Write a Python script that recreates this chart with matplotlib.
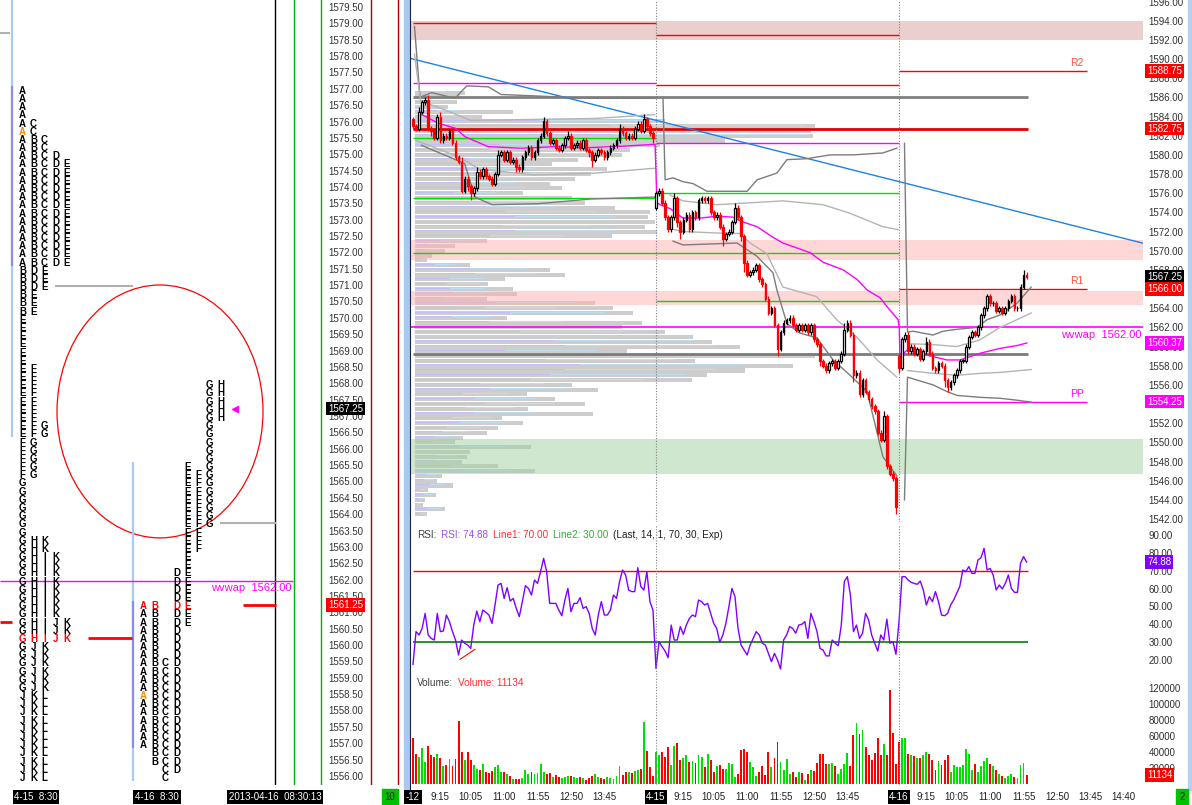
import numpy as np
import matplotlib
matplotlib.use("Agg")
import matplotlib.pyplot as plt
import matplotlib.transforms as mtrans
from matplotlib.patches import Ellipse, Rectangle
from matplotlib.lines import Line2D

plt.rcParams["font.family"] = ["Liberation Sans", "DejaVu Sans"]

W, H = 1192, 805

# ---------------- TPO profiles (price ranges per half-hour letter) ----------------
tpo_415_letters = list("ABCDEFGHIJKL")
tpo_415_low = [1571.75, 1570.25, 1571.75, 1571.0, 1566.5, 1565.25,
               1558.75, 1560.25, 1560.25, 1556.0, 1556.0, 1556.0]
tpo_415_high = [1577.0, 1575.5, 1576.0, 1575.0, 1574.75, 1568.5,
                1566.75, 1563.25, 1562.75, 1560.75, 1563.25, 1558.5]
tpo_415_open, tpo_415_close = 1575.75, 1560.25
tpo_415_range, tpo_415_va = (1566.5, 1579.75), (1571.75, 1577.0)

tpo_416_letters = list("ABCDEFGH")
tpo_416_low = [1557.0, 1556.5, 1556.0, 1556.25, 1560.75, 1563.0, 1563.75, 1567.0]
tpo_416_high = [1561.25, 1561.25, 1559.5, 1562.25, 1565.5, 1565.25, 1568.0, 1568.0]
tpo_416_open, tpo_416_close = 1558.5, 1561.25
tpo_416_range, tpo_416_va = (1556.0, 1565.5), (1557.0, 1561.25)

tpo_vwap = 1562.00

# ---------------- 5-minute bars: 4-12, 4-15, 4-16 ----------------
session_tags = ["-12", "4-15", "4-16"]
sess_open = [1583.75, 1574.5, 1559.0]

closes_412 = [1583.0, 1582.75, 1584.5, 1585.5, 1585.75, 1582.75, 1582.5, 1581.75, 1584.0, 1581.5,
              1582.0, 1581.75, 1582.5, 1581.25, 1579.75, 1579.25, 1576.25, 1577.5, 1576.75, 1576.0,
              1576.5, 1578.25, 1577.75, 1578.5, 1577.75, 1577.5, 1577.0, 1578.0, 1580.0, 1580.25,
              1579.5, 1580.25, 1579.25, 1579.5, 1578.75, 1578.5, 1579.75, 1580.25, 1580.75, 1579.75,
              1580.25, 1581.5, 1582.0, 1583.5, 1582.25, 1581.25, 1581.5, 1580.75, 1580.5, 1581.0,
              1581.75, 1582.0, 1580.75, 1581.0, 1581.25, 1580.75, 1581.5, 1580.5, 1580.25, 1579.5,
              1580.0, 1580.5, 1580.25, 1579.75, 1580.25, 1580.75, 1581.0, 1581.5, 1582.75, 1582.25,
              1581.75, 1582.0, 1581.75, 1582.75, 1583.25, 1582.5, 1583.75, 1583.0, 1582.25, 1581.75]
closes_415 = [1576.0, 1576.25, 1575.0, 1573.5, 1572.25, 1573.5, 1575.5, 1573.0, 1572.0, 1573.25,
              1573.75, 1572.25, 1574.0, 1573.5, 1575.25, 1575.5, 1575.25, 1575.5, 1574.0, 1573.5,
              1573.75, 1572.5, 1571.25, 1571.75, 1572.0, 1573.0, 1574.5, 1573.5, 1571.5, 1568.75,
              1567.5, 1567.75, 1568.0, 1568.5, 1567.0, 1566.5, 1565.0, 1563.5, 1564.0, 1562.25,
              1559.75, 1561.5, 1562.5, 1562.75, 1563.0, 1562.25, 1561.75, 1562.25, 1561.75, 1562.25,
              1561.5, 1562.25, 1560.75, 1560.25, 1558.5, 1558.0, 1557.5, 1558.25, 1558.5, 1557.75,
              1558.5, 1559.25, 1561.75, 1562.5, 1561.25, 1557.0, 1557.25, 1555.0, 1556.5, 1555.25,
              1554.5, 1553.75, 1553.25, 1551.0, 1550.25, 1552.75, 1547.5, 1546.75, 1546.25, 1543.25]
closes_416 = [1557.75, 1560.75, 1561.25, 1559.5, 1560.0, 1559.25, 1559.75, 1558.75, 1559.5, 1560.5,
              1559.25, 1557.75, 1557.5, 1558.25, 1558.0, 1556.5, 1555.75, 1556.25, 1557.0, 1557.5,
              1558.5, 1558.5, 1560.0, 1561.0, 1561.5, 1561.25, 1562.0, 1563.25, 1564.0, 1565.25,
              1564.5, 1564.5, 1563.75, 1564.0, 1563.5, 1564.0, 1564.75, 1565.25, 1564.0, 1564.0,
              1566.25, 1567.5, 1567.25]

# wick lengths in ticks (0.25)
upw_412 = [1, 1, 2, 1, 1, 2, 1, 1, 1, 2, 1, 1, 1, 1, 1, 1, 2, 1, 1, 1,
           1, 2, 1, 1, 1, 1, 1, 1, 2, 1, 1, 1, 1, 1, 1, 1, 1, 1, 1, 1,
           1, 1, 1, 2, 1, 1, 1, 1, 1, 1, 1, 2, 1, 1, 1, 1, 1, 1, 1, 1,
           1, 1, 1, 1, 1, 1, 1, 1, 2, 1, 1, 1, 1, 1, 1, 1, 2, 1, 1, 1]
dnw_412 = [1, 1, 1, 1, 1, 1, 2, 1, 1, 1, 1, 1, 1, 1, 1, 1, 1, 1, 2, 3,
           1, 1, 1, 1, 1, 1, 1, 1, 1, 1, 1, 1, 1, 1, 2, 1, 1, 1, 1, 1,
           1, 1, 1, 1, 1, 1, 1, 1, 1, 1, 1, 1, 1, 1, 1, 1, 1, 1, 2, 3,
           1, 1, 1, 1, 1, 1, 1, 1, 1, 1, 1, 1, 1, 1, 1, 1, 1, 1, 1, 2]
upw_415 = [1, 1, 1, 1, 1, 1, 2, 1, 1, 1, 1, 1, 1, 1, 1, 1, 1, 1, 1, 1,
           1, 1, 1, 1, 1, 1, 2, 1, 1, 1, 1, 1, 1, 1, 1, 1, 1, 1, 1, 1,
           1, 1, 1, 1, 1, 1, 1, 1, 1, 1, 1, 1, 1, 1, 1, 1, 1, 1, 1, 1,
           1, 1, 3, 1, 1, 1, 1, 1, 1, 1, 1, 1, 1, 1, 1, 2, 1, 1, 1, 1]
dnw_415 = [1, 1, 1, 1, 1, 1, 1, 2, 3, 1, 1, 1, 1, 1, 1, 1, 1, 1, 1, 1,
           1, 1, 3, 1, 1, 1, 1, 1, 2, 4, 1, 1, 1, 1, 1, 1, 1, 1, 1, 1,
           3, 1, 1, 1, 1, 1, 1, 1, 1, 1, 1, 1, 1, 1, 2, 1, 1, 1, 1, 1,
           1, 1, 1, 1, 1, 3, 1, 1, 1, 1, 1, 1, 1, 1, 1, 1, 1, 1, 1, 3]
upw_416 = [1, 1, 1, 1, 1, 1, 1, 1, 1, 2, 1, 1, 1, 1, 1, 1, 1, 1, 1, 1,
           1, 1, 1, 1, 1, 1, 1, 1, 1, 1, 1, 1, 1, 1, 1, 1, 1, 1, 1, 1,
           1, 2, 1]
dnw_416 = [2, 1, 1, 1, 1, 1, 1, 1, 1, 1, 1, 1, 1, 1, 1, 3, 2, 1, 1, 1,
           1, 1, 1, 1, 1, 1, 1, 1, 1, 1, 1, 1, 1, 1, 1, 1, 1, 1, 1, 1,
           1, 1, 1]

vol_412 = [57100, 37100, 34200, 45400, 28100, 47900, 36250, 34200, 37100, 32100,
           22900, 23750, 31250, 22900, 30800, 78750, 39600, 30000, 40400, 30000,
           23750, 18750, 17500, 24600, 15400, 13300, 16250, 21250, 23750, 14600,
           15400, 12100, 10400, 6250, 6250, 6250, 7900, 17500, 12100, 15400,
           12100, 13300, 24600, 15400, 12100, 13300, 9200, 11250, 9200, 7900,
           8750, 10400, 10400, 9200, 7900, 9200, 7100, 5000, 7900, 10400,
           12100, 8300, 7100, 6250, 9200, 7100, 6250, 10400, 22900, 11250,
           15400, 14600, 13300, 16250, 17500, 18750, 77900, 41250, 21250, 10400]
vol_415 = [39600, 36250, 40400, 34200, 46700, 23750, 47900, 50800, 30000, 32900,
           36250, 27100, 28750, 25800, 36250, 34200, 21250, 37100, 30000, 15400,
           22900, 23750, 18750, 18750, 25800, 24600, 9200, 12100, 42500, 43750,
           40400, 27100, 21250, 10400, 15400, 22900, 11250, 39600, 21250, 32900,
           52900, 27100, 17500, 31250, 12100, 15400, 9200, 15400, 13300, 5000,
           12000, 17000, 16000, 26000, 38000, 38000, 25000, 25000, 26000, 22000,
           13000, 19000, 25000, 39000, 22000, 61000, 76000, 63000, 67000, 46000,
           36000, 30000, 39000, 57000, 36000, 50000, 36000, 117000, 64000, 25000]
vol_416 = [53000, 58000, 58000, 37000, 36000, 35000, 32000, 32000, 36000, 40000,
           38000, 30000, 17000, 29000, 24000, 30000, 36000, 15000, 24000, 21000,
           21000, 24000, 44000, 37000, 17000, 25000, 15000, 22000, 29000, 33000,
           25000, 23000, 17000, 13000, 10000, 8000, 10000, 13000, 9000, 7000,
           24000, 26000, 11134]

rsi_412 = [17.6, 35.9, 34.0, 37.7, 46.1, 34.0, 32.1, 31.2, 46.1, 35.9,
           36.3, 45.2, 41.5, 35.9, 31.2, 22.8, 31.2, 29.4, 28.4, 26.5,
           39.6, 47.4, 41.5, 48.0, 46.7, 45.2, 40.5, 50.8, 62.0, 62.9,
           54.5, 60.5, 53.0, 54.5, 48.9, 44.3, 52.7, 61.6, 60.1, 56.4,
           64.8, 62.9, 69.5, 76.9, 69.5, 51.7, 51.7, 51.7, 48.0, 44.8,
           53.6, 60.1, 47.1, 51.7, 51.7, 54.9, 48.9, 49.9, 46.1, 37.7,
           34.0, 45.2, 52.7, 45.2, 45.2, 48.0, 56.4, 54.5, 63.9, 70.4,
           67.6, 59.2, 58.3, 58.3, 71.7, 61.1, 59.2, 69.5, 52.7, 48.0]
rsi_415 = [15.3, 30.3, 27.5, 25.0, 21.3, 39.6, 31.2, 31.2, 38.7, 34.4,
           39.6, 43.3, 45.2, 44.3, 53.6, 52.7, 50.8, 51.7, 46.1, 40.5,
           37.7, 29.9, 34.0, 40.5, 49.9, 60.1, 55.5, 37.7, 28.4, 25.6,
           22.8, 28.4, 32.1, 35.9, 34.0, 29.4, 28.4, 23.7, 19.1, 23.7,
           20.0, 15.0, 31.2, 34.0, 38.7, 37.7, 35.0, 39.6, 40.0, 41.5,
           32.1, 46.1, 41.5, 35.9, 26.5, 25.6, 22.3, 22.3, 31.2, 29.4,
           28.0, 39.6, 63.9, 66.7, 56.4, 35.9, 39.6, 32.1, 35.0, 46.1,
           42.4, 34.0, 29.4, 25.0, 34.0, 31.2, 42.9, 29.4, 30.3, 23.2]
rsi_416 = [41.5, 66.7, 66.7, 64.8, 63.5, 62.9, 62.4, 64.2, 59.2, 50.8,
           55.5, 52.7, 58.3, 52.7, 45.2, 44.8, 46.1, 50.8, 53.6, 57.3,
           61.1, 70.4, 69.5, 72.3, 68.5, 68.5, 76.0, 77.3, 82.5, 70.4,
           71.3, 67.6, 59.2, 62.0, 59.8, 62.9, 67.6, 60.1, 57.9, 57.9,
           74.1, 77.9, 74.88]
rsi_div = [(15.5, 20.4), (20.4, 26.0)]

# session VWAP and deviation bands, (bar, price) points
vwap_pts = [(2.3, 1584.3), (8.3, 1583.3), (13.8, 1582.8), (17.1, 1581.9), (24.8, 1580.85),
            (35.8, 1580.7), (46.8, 1580.85), (57.7, 1580.75), (68.7, 1580.9), (79.7, 1581.1),
            (80.3, 1575.0), (81.3, 1574.8), (84.6, 1574.4), (88.9, 1573.4), (94.5, 1573.4),
            (100, 1573.6), (105.3, 1573.5), (108.6, 1573.0), (113.3, 1572.5), (118.5, 1571.4),
            (121.8, 1570.8), (130.7, 1569.8), (135, 1568.8), (141.6, 1568.0), (146.2, 1567.0),
            (149.5, 1565.9), (153.7, 1565.1), (157, 1563.8), (159.7, 1562.8), (160.1, 1561.9),
            (160.3, 1558.95), (162.6, 1559.6), (166.9, 1559.3), (171.2, 1558.95), (175.8, 1558.6),
            (180.1, 1558.6), (186.7, 1559.3), (193.2, 1559.8), (198.8, 1560.1), (202.1, 1560.37)]
band_outer = [
    [(0.5, 1593.4), (2.3, 1586.0), (6.2, 1586.5), (13.8, 1585.9), (17.7, 1587.2), (24.8, 1587.1),
     (29, 1586.3), (58.8, 1585.9), (79.5, 1585.9)],
    [(82.3, 1586.0), (83, 1577.4), (85.6, 1577.6), (88.9, 1577.2), (92.2, 1577.0), (96.8, 1576.2),
     (110, 1576.2), (113.3, 1577.4), (119.8, 1578.1), (123.1, 1579.5), (129.7, 1579.6),
     (137.3, 1580.0), (145, 1580.0), (154.7, 1580.2), (159.3, 1580.7)],
    [(161.8, 1581.2), (162.8, 1561.5), (164.6, 1561.6), (171.2, 1561.2), (174.5, 1561.6),
     (179.1, 1561.8), (185.7, 1562.0), (189, 1562.8), (193.3, 1563.3), (198.8, 1564.5), (203.5, 1566.2)],
    [(2.8, 1581.0), (17, 1579.1), (20.4, 1575.6), (26, 1574.8), (41, 1574.9), (58.8, 1575.4), (79.5, 1575.6)],
    [(85.6, 1571.0), (88.9, 1570.6), (106.7, 1570.8), (113.3, 1569.4), (118.5, 1567.7), (119.8, 1565.9),
     (123.1, 1562.4), (127.4, 1561.4), (133, 1560.9), (138.3, 1558.6), (143.9, 1557.0),
     (149.5, 1555.3), (154.7, 1548.5), (159.3, 1546.5)],
    [(161.8, 1544.0), (162.8, 1556.8), (171.2, 1556.0), (175.8, 1555.3), (179.1, 1554.9),
     (186.7, 1554.7), (193.3, 1554.6), (198.8, 1554.4), (203.5, 1554.2)],
]
band_inner = [
    [(0.5, 1590.5), (2.5, 1585.6), (8, 1585.0), (19, 1583.6), (40, 1583.7), (60, 1583.8), (79.5, 1584.2)],
    [(84.6, 1575.8), (88.9, 1575.2), (100, 1574.8), (111, 1575.0), (121.8, 1575.2), (128.4, 1575.0),
     (135, 1574.8), (143.9, 1573.9), (154.7, 1572.5), (159.7, 1572.2)],
    [(162.8, 1560.3), (171.2, 1560.2), (179.1, 1560.0), (186.7, 1560.7), (193.3, 1562.0),
     (198.8, 1562.8), (203.5, 1563.5)],
    [(1, 1581.5), (15, 1579.8), (22, 1578.5), (40, 1577.9), (60, 1578.1), (79.5, 1578.6)],
    [(84.6, 1572.3), (88.9, 1572.0), (103.4, 1571.8), (107.6, 1571.8), (111, 1570.8), (116.5, 1569.7),
     (121.8, 1566.2), (132.9, 1565.2), (139.5, 1562.8), (146.1, 1561.0), (152.8, 1558.6), (159.3, 1556.8)],
    [(162.8, 1557.5), (171.2, 1557.2), (179.1, 1557.0), (186.7, 1557.2), (193.3, 1557.3), (203.5, 1557.6)],
]

# composite volume profile, 0.5-point rows from top to bottom
profile_top, profile_bottom = 1586.5, 1542.5
profile_total = [50, 45, 42, 33, 98, 67, 250, 400, 396, 398,
                 310, 245, 215, 207, 163, 137, 192, 176, 160, 135,
                 147, 108, 157, 170, 200, 235, 233, 240, 230, 242,
                 197, 72, 40, 30, 17, 12, 55, 135, 150, 90,
                 73, 98, 102, 72, 180, 198, 218, 92, 227, 207,
                 250, 278, 297, 325, 212, 400, 280, 378, 330, 292,
                 277, 157, 183, 112, 140, 170, 113, 178, 87, 108,
                 83, 72, 48, 40, 116, 55, 52, 47, 83, 120,
                 27, 22, 38, 13, 21, 10, 8, 30, 12]
profile_recent = [30, 20, 25, 20, 45, 40, 250, 390, 380, 395,
                  230, 170, 150, 180, 110, 95, 120, 150, 125, 100,
                  110, 80, 130, 150, 140, 180, 200, 210, 175, 200,
                  150, 50, 30, 25, 12, 10, 40, 110, 120, 70,
                  65, 70, 75, 60, 160, 140, 190, 75, 150, 180,
                  210, 230, 280, 300, 180, 380, 260, 330, 300, 270,
                  230, 130, 150, 95, 120, 140, 100, 120, 75, 90,
                  65, 55, 40, 35, 90, 50, 40, 40, 70, 100,
                  22, 18, 30, 10, 18, 8, 6, 25, 10]

# levels and zones
zones_low = [1592.0, 1569.0, 1564.3, 1546.7]
zones_high = [1594.0, 1571.1, 1565.8, 1550.4]
lvl_412_red, lvl_412_magenta, lvl_412_green = 1593.75, 1587.5, [1581.75, 1575.5]
lvl_415_red, lvl_415_magenta, lvl_415_green = [1592.5, 1587.25], 1581.25, [1576.0, 1564.75]
lvl_two_day_green = 1569.75
lvl_gray_top, lvl_red_mid, lvl_gray_low = 1586.0, 1582.75, 1559.25
prior_vwap = 1562.00
pivot_names = ["R2", "R1", "PP"]
pivot_values = [1588.75, 1566.00, 1554.25]
trend = [(0, 1590.0), (202, 1573.85)]

tick_times = ["9:15", "10:05", "11:00", "11:55", "12:50", "13:45", "14:40"]

# ---------------- derived series ----------------
closes = np.array(closes_412 + closes_415 + closes_416)
n = len(closes)
idx = np.arange(n)
sess_start = [0, len(closes_412), len(closes_412) + len(closes_415)]
opens = np.r_[np.nan, closes[:-1]]
for s, o in zip(sess_start, sess_open):
    opens[s] = o
highs = np.maximum(opens, closes) + 0.25 * np.array(upw_412 + upw_415 + upw_416)
lows = np.minimum(opens, closes) - 0.25 * np.array(dnw_412 + dnw_415 + dnw_416)
rising = closes >= opens
volume = np.array(vol_412 + vol_415 + vol_416)
rsi = np.array(rsi_412 + rsi_415 + rsi_416)

fig = plt.figure(figsize=(W / 100, H / 100), dpi=100)
fig.patch.set_facecolor("white")


def px_axes(x0, y0, x1, y1):
    a = fig.add_axes([x0 / W, 1 - y1 / H, (x1 - x0) / W, (y1 - y0) / H])
    a.set_facecolor("none")
    for sp in a.spines.values():
        sp.set_visible(False)
    return a


def ftext(x, y, s, **kw):
    return fig.text(x / W, 1 - y / H, s, **kw)


def text_run(x, y, pieces, size=7.5, gap=4):
    # colored words laid out one after another, like the platform's title lines
    prev = ftext(x, y, pieces[0][0], fontsize=size, color=pieces[0][1], va="center")
    for s, c in pieces[1:]:
        prev = fig.add_artist(plt.Annotation(s, xy=(1, 0.5), xycoords=prev, xytext=(gap, 0),
                                             textcoords="offset points", fontsize=size,
                                             color=c, va="center", ha="left"))
    return prev


# ================= left TPO panel =================
tax = px_axes(0, 0, 410, 785)
tax.set_xlim(0, 410)
tax.set_ylim(1555.753, 1579.745)
tax.set_xticks([])
tax.set_yticks([])

tax.axvline(275, color="black", lw=1)
for xv in (294, 321):
    tax.axvline(xv, color="#00B000", lw=1)
for xv in (371, 398):
    tax.axvline(xv, color="#B00000", lw=1)

for p in np.arange(1556.0, 1579.51, 0.5):
    tax.text(363, p, f"{p:.2f}", ha="right", va="center", fontsize=7, color="#333333")
tax.text(363, closes[-1], f"{closes[-1]:.2f}", ha="right", va="center", fontsize=7,
         color="white", bbox=dict(fc="black", ec="none", pad=1.2), zorder=6)
tax.text(363, tpo_416_close, f"{tpo_416_close:.2f}", ha="right", va="center", fontsize=7,
         color="white", bbox=dict(fc="#FF0000", ec="none", pad=1.2), zorder=6)

# range / value-area bars
for xv, rng, va in ((12, tpo_415_range, tpo_415_va), (133, tpo_416_range, tpo_416_va)):
    tax.vlines(xv, rng[0] - 0.125, rng[1] + 0.125, color="#A8CCF0", lw=1.6)
    tax.vlines(xv, va[0] - 0.125, va[1] + 0.125, color="#8C8CF0", lw=1.6)


def draw_profile(letters, lo, hi, x0, packed, close_row, open_row):
    for p in np.arange(max(hi), min(lo) - 0.01, -0.25):
        if p < 1556.0 - 1e-9:
            break
        present = [k for k in range(len(letters)) if lo[k] - 1e-9 <= p <= hi[k] + 1e-9]
        for j, k in enumerate(present):
            col = j if packed else k
            if abs(p - close_row) < 1e-6:
                c = "#FF0000"
            elif k == 0 and abs(p - open_row) < 1e-6:
                c = "#FF8C00"
            else:
                c = "black"
            tax.text(x0 + col * 11, p, letters[k], ha="center", va="center_baseline",
                     fontsize=7, fontweight="bold", color=c)


draw_profile(tpo_415_letters, tpo_415_low, tpo_415_high, 22.5, True, tpo_415_close, tpo_415_open)
draw_profile(tpo_416_letters, tpo_416_low, tpo_416_high, 143.5, False, tpo_416_close, tpo_416_open)

tax.hlines(tpo_vwap, 0, 293, color="#FF00FF", lw=1)
tax.annotate(f"wvwap  {tpo_vwap:.2f}", (211, tpo_vwap), xytext=(0, -2), textcoords="offset points",
             ha="left", va="top", fontsize=8, color="#FF00FF")
tax.hlines([1578.75, 1571.0, 1563.75], [0, 55, 220], [10, 133, 276], color="#B0B0B0", lw=1.5)
tax.hlines([1560.75, tpo_415_close, tpo_416_close], [0, 88, 243], [12, 132, 276], color="#FF0000", lw=2)
tax.plot([235], [closes[-1]], marker="<", color="#FF00FF", ms=5)
tax.add_patch(Ellipse((160, 1567.17), 206, 7.73, fill=False, ec="#FF0000", lw=0.9))

# ================= main price panel =================
X0, X1 = 410, 1143
BAR_PX, BAR0_PX = 3.0375, 413
xlim = ((X0 - BAR0_PX) / BAR_PX, (X1 - BAR0_PX) / BAR_PX)

ax = px_axes(X0, 0, X1, 522)
ax.set_xlim(*xlim)
ax.set_ylim(1541.69, 1596.16)
ax.set_xticks([])
ax.yaxis.tick_right()
ax.set_yticks(np.arange(1542, 1597, 2))
ax.set_yticklabels([f"{v:.2f}" for v in np.arange(1542, 1597, 2)])
ax.tick_params(axis="y", length=0, pad=4, labelsize=7, labelcolor="#303030")

# volume profile
levels = np.arange(profile_top, profile_bottom - 0.01, -0.5)
scale = 1 / BAR_PX
ax.barh(levels, np.array(profile_total) * scale, left=0.6, height=0.42, color="#CDCDCD", zorder=1)
ax.barh(levels + 0.1, np.array(profile_recent) * scale, left=0.6, height=0.1, color="#BCDDF2", zorder=1.1)
ax.barh(levels + 0.1, np.array(profile_recent) * scale * 0.5, left=0.6, height=0.1,
        color="#C2BEF6", zorder=1.2)

zone_cols = ["#D8A0A0", "#FFB0B0", "#FFB0B0", "#A0D0A0"]
for lo_, hi_, c in zip(zones_low, zones_high, zone_cols):
    ax.axhspan(lo_, hi_, color=c, alpha=0.5, lw=0, zorder=2)

s0, s1, s2 = sess_start
ax.hlines(lvl_412_red, s0, s1, color="#FF0000", lw=1, zorder=3)
ax.hlines(lvl_412_magenta, s0, s1, color="#FF00FF", lw=1, zorder=3)
ax.hlines(lvl_412_green, s0, s1, color="#00E000", lw=1, zorder=3)
ax.hlines(lvl_415_red, s1, s2, color="#FF0000", lw=1, zorder=3)
ax.hlines(lvl_415_magenta, s1, s2, color="#FF00FF", lw=1, zorder=3)
ax.hlines(lvl_415_green, s1, s2, color="#00E000", lw=1, zorder=3)
ax.hlines(lvl_two_day_green, s0, s2, color="#00E000", lw=1, zorder=3)
ax.hlines(lvl_gray_top, s0, n - 0.5, color="#808080", lw=2, zorder=3)
ax.hlines(lvl_red_mid, s0, n - 0.5, color="#E00000", lw=2, zorder=3)
ax.hlines(lvl_gray_low, s0, n - 0.5, color="#7A7A7A", lw=2, zorder=3)
ax.axhline(prior_vwap, color="#FF00FF", lw=1.2, zorder=3)
ax.annotate(f"wvwap  {prior_vwap:.2f}", (1, prior_vwap),
            xycoords=mtrans.blended_transform_factory(ax.transAxes, ax.transData),
            xytext=(-1, -2), textcoords="offset points", ha="right", va="top",
            fontsize=8, color="#FF00FF")

piv_end = s2 + 62
for name, val in zip(pivot_names, pivot_values):
    c = "#FF00FF" if name == "PP" else "#FF0000"
    ax.hlines(val, s2, piv_end, color=c, lw=1, zorder=3)
    ax.annotate(name, (piv_end - 3.3, val), xytext=(0, 2), textcoords="offset points",
                ha="center", va="bottom", fontsize=7.5, color="#FF00FF" if name == "PP" else "#FF5040")

ax.axline(trend[0], trend[1], color="#1E80E8", lw=1, zorder=3)

for seg in band_outer:
    xs, ys = zip(*seg)
    ax.plot(xs, ys, color="#7C7C7C", lw=1, zorder=3)
for seg in band_inner:
    xs, ys = zip(*seg)
    ax.plot(xs, ys, color="#B4B4B4", lw=1, zorder=3)
vx, vy = zip(*vwap_pts)
ax.plot(vx, vy, color="#FF00FF", lw=1, zorder=3.5)

# candles
wick_c = np.where(rising, "black", "#FF0000")
ax.vlines(idx, lows, highs, colors=wick_c, lw=0.9, zorder=4)
body_lo = np.minimum(opens, closes)
body_h = np.maximum(np.abs(closes - opens), 0.06)
ax.bar(idx, body_h, bottom=body_lo, width=0.55, color=np.where(rising, "white", "#FF0000"),
       edgecolor=wick_c, linewidth=0.9, zorder=5)

for sv in (s1, s2):
    ax.axvline(sv, color="#808080", ls=(0, (1, 1.5)), lw=0.8, zorder=3)

ybl = mtrans.blended_transform_factory(ax.transAxes, ax.transData)
box_items = [(pivot_values[0], "#FF0000"), (lvl_red_mid, "#FF0000"), (closes[-1], "black"),
             (pivot_values[1], "#FF0000"), (vwap_pts[-1][1], "#FF00FF"), (pivot_values[2], "#FF00FF")]
for val, c in box_items:
    ax.text(1 + 4 / (X1 - X0), val, f"{val:.2f}", transform=ybl, ha="left", va="center",
            fontsize=7, color="white", bbox=dict(fc=c, ec="none", pad=1.3), zorder=10, clip_on=False)

# ================= RSI panel =================
rax = px_axes(X0, 525, X1, 677)
rax.set_xlim(*xlim)
rax.set_ylim(10.5, 95.6)
rax.set_xticks([])
rax.yaxis.tick_right()
rax.set_yticks(np.arange(20, 91, 10))
rax.set_yticklabels([f"{v:.2f}" for v in np.arange(20, 91, 10)])
rax.tick_params(axis="y", length=0, pad=4, labelsize=7, labelcolor="#303030")
rax.hlines(70, 0, n - 0.5, color="#FF0000", lw=1)
rax.hlines(30, 0, n - 0.5, color="#008000", lw=1.2)
rax.plot(idx, rsi, color="#8000FF", lw=1)
dx, dy = zip(*rsi_div)
rax.plot(dx, dy, color="#FF0000", lw=0.8)
for sv in (s1, s2):
    rax.axvline(sv, color="#808080", ls=(0, (1, 1.5)), lw=0.8)
rbl = mtrans.blended_transform_factory(rax.transAxes, rax.transData)
rax.text(1 + 4 / (X1 - X0), rsi[-1], f"{rsi[-1]:.2f}", transform=rbl, ha="left", va="center",
         fontsize=7, color="white", bbox=dict(fc="#8000FF", ec="none", pad=1.3), zorder=10, clip_on=False)

text_run(417, 535, [("RSI:", "#404040"), (f"RSI: {rsi[-1]:.2f}", "#9A50F0"),
                    ("Line1: 70.00", "#FF3030"), ("Line2: 30.00", "#30B030"),
                    ("(Last, 14, 1, 70, 30, Exp)", "#202020")], size=7.2, gap=3.5)

# ================= volume panel =================
vax = px_axes(X0, 677, X1, 785)
vax.set_xlim(*xlim)
vax.set_ylim(-1250, 133750)
vax.bar(idx, volume, width=0.62, color=np.where(rising, "#00E000", "#FF0000"), lw=0)
vax.yaxis.tick_right()
vax.set_yticks(np.arange(20000, 120001, 20000))
vax.set_yticklabels([f"{v:d}" for v in np.arange(20000, 120001, 20000)])
vax.tick_params(axis="y", length=0, pad=4, labelsize=7, labelcolor="#303030")
for sv in (s1, s2):
    vax.axvline(sv, color="#808080", ls=(0, (1, 1.5)), lw=0.8)
vbl = mtrans.blended_transform_factory(vax.transAxes, vax.transData)
vax.text(1 + 4 / (X1 - X0), volume[-1], f"{volume[-1]:d}", transform=vbl, ha="left", va="center",
         fontsize=7, color="white", bbox=dict(fc="#FF0000", ec="none", pad=1.3), zorder=10, clip_on=False)
text_run(417, 683, [("Volume:", "#404040"), (f"Volume: {volume[-1]:d}", "#FF3030")], size=7.2, gap=3.5)

# time axis
ticks, labels, boxed = [], [], []
for s, start in enumerate(sess_start):
    ticks.append(start)
    labels.append(session_tags[s])
    boxed.append(True)
    for t in tick_times:
        hh, mm = map(int, t.split(":"))
        off = (hh * 60 + mm - 510) // 5
        if s < 2 and off > 68:
            continue
        ticks.append(start + off)
        labels.append(t)
        boxed.append(False)
vax.set_xticks(ticks)
vax.set_xticklabels(labels)
vax.tick_params(axis="x", length=0, pad=5, labelsize=7, labelcolor="#202020")
for lbl, b in zip(vax.get_xticklabels(), boxed):
    if b:
        lbl.set_color("white")
        lbl.set_bbox(dict(fc="black", ec="none", pad=1.2))

# ================= frame decorations =================
fig.add_artist(Rectangle((404 / W, 1 - 790 / H), 5 / W, 790 / H, transform=fig.transFigure,
                         color="#A6CAF0", zorder=0))
fig.add_artist(Line2D([409.5 / W, 409.5 / W], [1 - 790 / H, 1], transform=fig.transFigure,
                      color="#202040", lw=0.8))
fig.add_artist(Rectangle((1188 / W, 1 - 790 / H), 4 / W, 790 / H, transform=fig.transFigure,
                         color="#B4D0EE", zorder=0))
fig.add_artist(Rectangle((1176 / W, 0), 12 / W, 16 / H, transform=fig.transFigure,
                         color="#00C000", zorder=0))
ftext(1182, 797, "2", fontsize=7, color="#102010", ha="center", va="center")
fig.add_artist(Rectangle((382 / W, 0), 16 / W, 16 / H, transform=fig.transFigure,
                         color="#00C000", zorder=0))
ftext(390, 797, "10", fontsize=7, color="#102010", ha="center", va="center")

for xc, s in ((36, "4-15  8:30"), (157, "4-16  8:30"), (275, "2013-04-16  08:30:13")):
    ftext(xc, 797, s, fontsize=7, color="white", ha="center", va="center",
          bbox=dict(fc="black", ec="none", pad=1.2))

fig.savefig("out.png", dpi=100, facecolor="white")
